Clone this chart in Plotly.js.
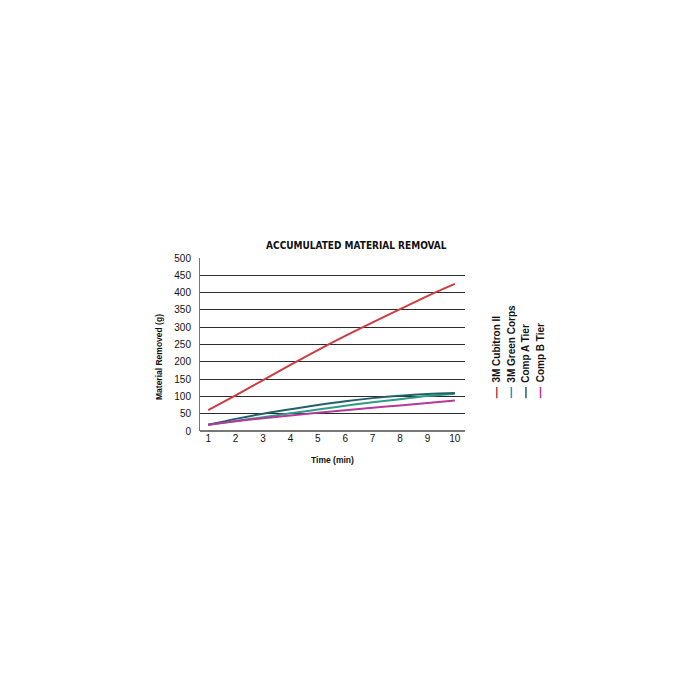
<!DOCTYPE html>
<html>
<head>
<meta charset="utf-8">
<script src="https://cdn.plot.ly/plotly-3.0.1.min.js"></script>
<style>
  html, body { margin: 0; padding: 0; background: #ffffff; }
  #chart { width: 700px; height: 700px; }
</style>
</head>
<body>
<div id="chart"></div>
<script>
// time axis (minutes)
var timeMinutes = [1, 2, 3, 4, 5, 6, 7, 8, 9, 10];

// accumulated material removed (g)
var cubitronValues = [60, 103, 147, 191, 234, 275, 314, 352, 390, 425];
var greenCorpsValues = [18, 29, 40, 51, 62, 73, 83, 92, 101, 108];
var compAValues = [18, 35, 50, 63, 75, 86, 95, 102, 107, 110];
var compBValues = [18, 28, 37, 45, 53, 60, 67, 74, 81, 88];

var seriesNames = ["3M Cubitron II", "3M Green Corps", "Comp A Tier", "Comp B Tier"];
var seriesColors = ["#cf3b3f", "#2e9b86", "#22606e", "#b5399b"];
var yTickValues = [0, 50, 100, 150, 200, 250, 300, 350, 400, 450, 500];

var seriesValues = [cubitronValues, greenCorpsValues, compAValues, compBValues];

var data = seriesValues.map(function (values, i)
{
    return {
        x: timeMinutes,
        y: values,
        mode: "lines",
        type: "scatter",
        name: seriesNames[i],
        line: { color: seriesColors[i], width: 2, shape: "spline", smoothing: 1 },
        hoverinfo: "x+y+name"
    };
});

// rotated legend entries to the right of the plot
var legendX = [1.12, 1.175, 1.23, 1.285];
var annotations = seriesNames.map(function (name, i)
{
    return {
        xref: "paper", yref: "paper",
        x: legendX[i], y: 0.27,
        xanchor: "center", yanchor: "bottom",
        text: "<b>" + name + "</b>",
        textangle: -90,
        showarrow: false,
        font: { family: "Liberation Sans, Arial, sans-serif", size: 10, color: "#111111" }
    };
});
var shapes = seriesNames.map(function (name, i)
{
    return {
        type: "line", xref: "paper", yref: "paper",
        x0: legendX[i], x1: legendX[i], y0: 0.19, y1: 0.255,
        line: { color: seriesColors[i], width: 1.5 }
    };
});

annotations.push({
    xref: "paper", yref: "paper",
    x: -0.157, y: 0.43,
    xanchor: "center", yanchor: "middle",
    text: "<b>Material Removed (g)</b>",
    textangle: -90,
    showarrow: false,
    font: { family: "Liberation Sans, Arial, sans-serif", size: 8.5, color: "#111111" }
});
annotations.push({
    xref: "paper", yref: "paper",
    x: 0.5, y: -0.165,
    xanchor: "center", yanchor: "middle",
    text: "<b>Time (min)</b>",
    showarrow: false,
    font: { family: "Liberation Sans, Arial, sans-serif", size: 8.5, color: "#111111" }
});

var layout =
{
    width: 700,
    height: 700,
    paper_bgcolor: "#ffffff",
    plot_bgcolor: "#ffffff",
    showlegend: false,
    margin: { l: 200, r: 235, t: 258, b: 269, pad: 0 },
    title:
    {
        text: "<b>ACCUMULATED MATERIAL REMOVAL</b>",
        xref: "container", yref: "container",
        x: 0.509, y: 0.649,
        xanchor: "center", yanchor: "middle",
        font: { family: "DejaVu Sans Condensed, Liberation Sans Narrow, Liberation Sans, sans-serif", size: 10, color: "#111111" }
    },
    xaxis:
    {
        range: [0.7, 10.37],
        tickvals: timeMinutes,
        ticks: "",
        showgrid: false,
        zeroline: false,
        showline: false,
        tickfont: { family: "Liberation Sans, Arial, sans-serif", size: 10, color: "#111111" },
        fixedrange: true
    },
    yaxis:
    {
        range: [0, 500],
        tickvals: yTickValues,
        ticks: "",
        showgrid: true,
        gridcolor: "#2b2b2b",
        gridwidth: 1,
        zeroline: true,
        zerolinecolor: "#777777",
        zerolinewidth: 1.5,
        showline: true,
        linecolor: "#777777",
        linewidth: 1,
        ticklabelstandoff: 6,
        tickfont: { family: "Liberation Sans, Arial, sans-serif", size: 10, color: "#111111" },
        fixedrange: true
    },
    annotations: annotations,
    shapes: shapes
};

Plotly.newPlot("chart", data, layout, { displayModeBar: false, staticPlot: true });
</script>
</body>
</html>
